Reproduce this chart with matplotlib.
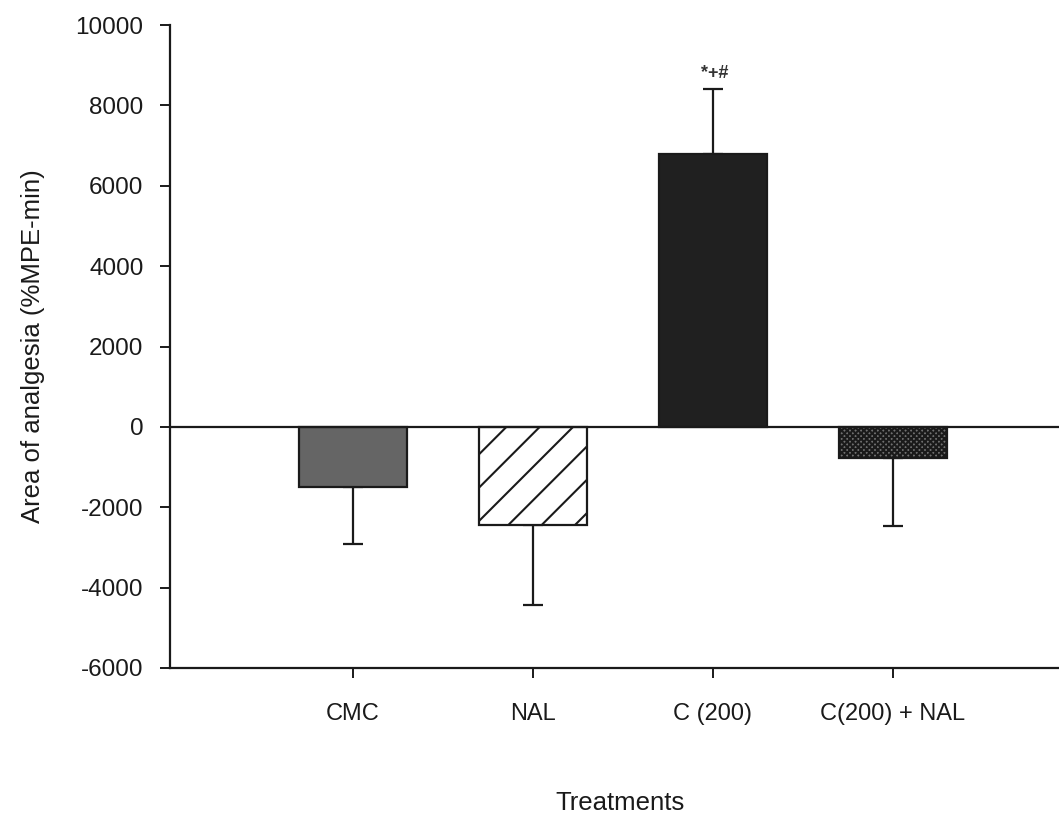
import numpy as np
import matplotlib
matplotlib.use("Agg")
import matplotlib.pyplot as plt

plt.rcParams['font.family'] = ['Liberation Sans', 'DejaVu Sans']
plt.rcParams['hatch.linewidth'] = 1.5

categories = ["CMC", "NAL", "C (200)", "C(200) + NAL"]
means = [-1490, -2440, 6790, -770]
sem = [1420, 1990, 1620, 1690]
sig_labels = ["", "", "*+#", ""]
yticks = [-6000, -4000, -2000, 0, 2000, 4000, 6000, 8000, 10000]

face = ["#656565", "white", "#202020", "#707070"]
hatches = [None, "/", None, "xxxxxx"]

fig = plt.figure(figsize=(10.59, 8.16), dpi=100)
ax = fig.add_axes([170/1059, (816-668)/816, 900/1059, (668-25)/816])

x = np.arange(1, len(categories) + 1)
bars = ax.bar(x, means, width=0.6, color=face, edgecolor="#1a1a1a", linewidth=1.6, zorder=2)
for b, h in zip(bars, hatches):
    if h:
        b.set_hatch(h)

lower = [e if m < 0 else 0 for m, e in zip(means, sem)]
upper = [e if m >= 0 else 0 for m, e in zip(means, sem)]
ax.errorbar(x, means, yerr=[lower, upper], fmt="none", ecolor="#1a1a1a",
            elinewidth=1.6, capsize=7.5, capthick=1.6, zorder=1)
for xi, m, e, lbl in zip(x, means, sem, sig_labels):
    if lbl:
        ax.text(xi + 0.01, m + e + 380, lbl, ha="center", va="center",
                fontsize=13, fontweight="bold", color="#333333")

ax.axhline(0, color="#1a1a1a", linewidth=1.6, zorder=3)

ax.set_xlim(-0.015, 4.985)
ax.set_ylim(-6000, 10000)
ax.set_yticks(yticks)
ax.set_yticklabels([str(t) for t in yticks])
ax.set_xticks(x)
ax.set_xticklabels(categories)

for s in ["top", "right"]:
    ax.spines[s].set_visible(False)
for s in ["left", "bottom"]:
    ax.spines[s].set_linewidth(1.6)
    ax.spines[s].set_color("#1a1a1a")

ax.tick_params(axis="y", direction="out", length=7, width=1.4, labelsize=17.5, pad=12, colors="#1a1a1a")
ax.tick_params(axis="x", direction="out", length=7, width=1.4, labelsize=17, pad=18, colors="#1a1a1a")
ax.set_ylabel("Area of analgesia (%MPE-min)", fontsize=18.5, labelpad=22, color="#1a1a1a")
ax.set_xlabel("Treatments", fontsize=18.5, labelpad=48, color="#1a1a1a")

fig.savefig("out.png", dpi=100)
